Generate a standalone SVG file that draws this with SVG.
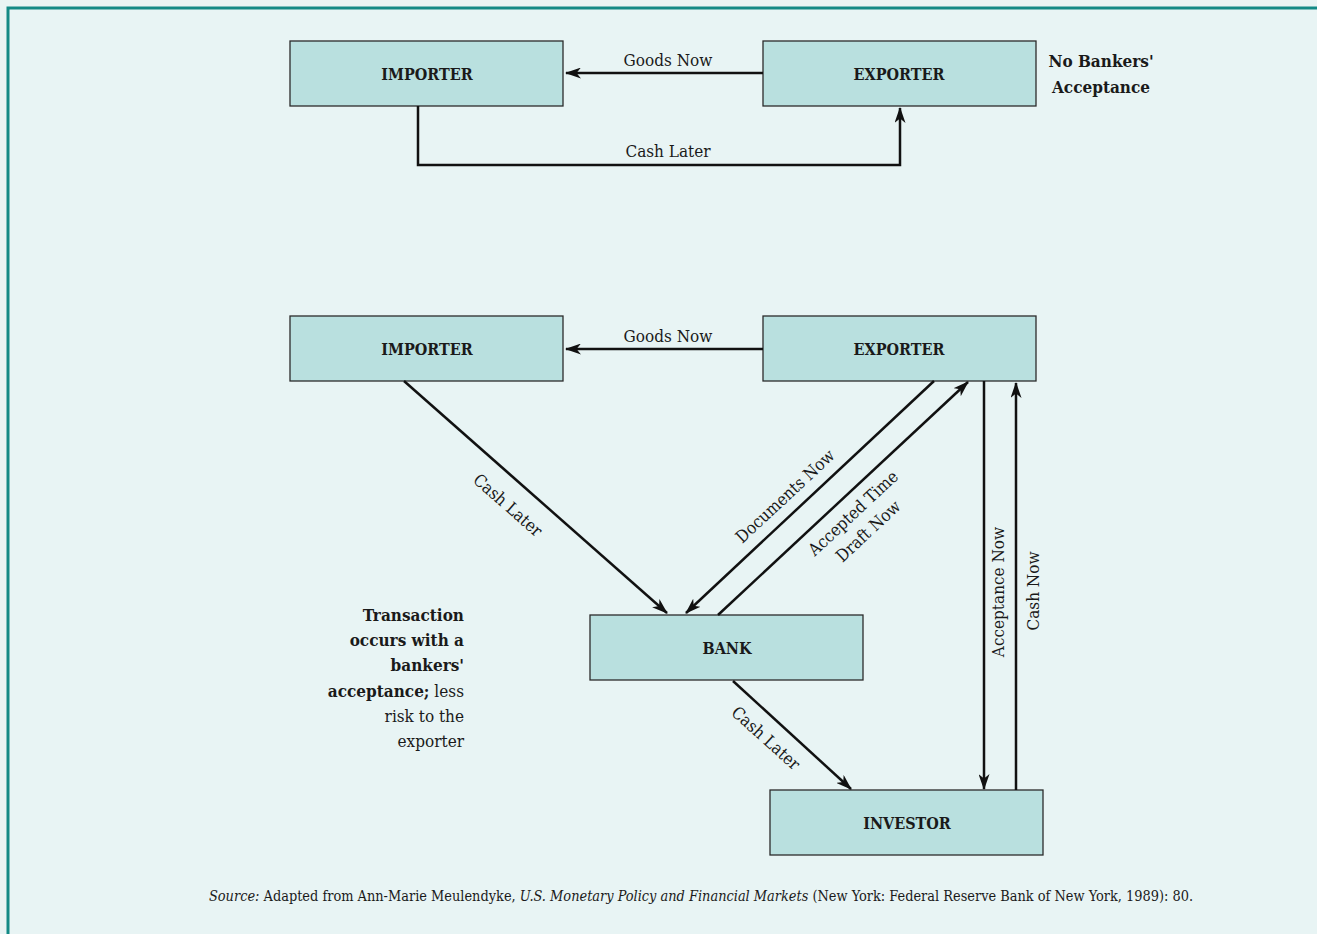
<svg xmlns="http://www.w3.org/2000/svg" width="1317" height="934" viewBox="0 0 1317 934">
<style>
.bg{fill:#e8f4f4}
.frame{fill:none;stroke:#128a86;stroke-width:3}
.box{fill:#b9e0df;stroke:#2b2b2b;stroke-width:1.3}
text{font-family:"DejaVu Serif Condensed","DejaVu Serif",serif;font-stretch:condensed;fill:#1a1a1a}
.nt{font-weight:bold;font-size:16px;text-anchor:middle}
.lb{font-size:17px;text-anchor:middle}
.note{font-size:17px}
.b{font-weight:bold}
.src{font-size:14.4px}
.c{fill:none;stroke:#111;stroke-width:2.5}
</style>
<defs>
<marker id="ah" viewBox="0 0 16 11" refX="15" refY="5.5" markerWidth="16" markerHeight="11" markerUnits="userSpaceOnUse" orient="auto">
<path d="M0,0 L16,5.5 L0,11 L4.5,5.5 z" fill="#111"/>
</marker>
</defs>
<rect class="bg" x="0" y="0" width="1317" height="934"/>
<rect class="frame" x="8" y="8" width="1330" height="950"/>

<g id="imp1"><rect class="box" x="290" y="41" width="273" height="65"/><text class="nt" x="427" y="80">IMPORTER</text></g>
<g id="exp1"><rect class="box" x="763" y="41" width="273" height="65"/><text class="nt" x="899" y="80">EXPORTER</text></g>
<g id="note1"><text class="note b" x="1101" y="67" text-anchor="middle">No Bankers'</text><text class="note b" x="1101" y="93" text-anchor="middle">Acceptance</text></g>

<g id="imp2"><rect class="box" x="290" y="316" width="273" height="65"/><text class="nt" x="427" y="355">IMPORTER</text></g>
<g id="exp2"><rect class="box" x="763" y="316" width="273" height="65"/><text class="nt" x="899" y="355">EXPORTER</text></g>
<g id="bank"><rect class="box" x="590" y="615" width="273" height="65"/><text class="nt" x="727" y="654">BANK</text></g>
<g id="inv"><rect class="box" x="770" y="790" width="273" height="65"/><text class="nt" x="907" y="829">INVESTOR</text></g>

<g id="note2" class="note" text-anchor="end">
<text x="464" y="621" class="b" text-anchor="end">Transaction</text>
<text x="464" y="646" class="b" text-anchor="end">occurs with a</text>
<text x="464" y="671" class="b" text-anchor="end">bankers'</text>
<text x="464" y="697" text-anchor="end"><tspan class="b">acceptance;</tspan> less</text>
<text x="464" y="722" text-anchor="end">risk to the</text>
<text x="464" y="747" text-anchor="end">exporter</text>
</g>

<g id="connectors">
<line class="c" x1="763" y1="73" x2="566" y2="73" marker-end="url(#ah)"/>
<polyline class="c" points="418,106 418,165 900,165 900,108" marker-end="url(#ah)"/>
<line class="c" x1="763" y1="349" x2="566" y2="349" marker-end="url(#ah)"/>
<line class="c" x1="404" y1="381" x2="667" y2="613" marker-end="url(#ah)"/>
<line class="c" x1="934" y1="381" x2="686" y2="613" marker-end="url(#ah)"/>
<line class="c" x1="718" y1="615" x2="968" y2="382" marker-end="url(#ah)"/>
<line class="c" x1="984" y1="381" x2="984" y2="789" marker-end="url(#ah)"/>
<line class="c" x1="1016" y1="790" x2="1016" y2="383" marker-end="url(#ah)"/>
<line class="c" x1="733" y1="681" x2="851" y2="789" marker-end="url(#ah)"/>
</g>

<g id="labels">
<text class="lb" x="668" y="66">Goods Now</text>
<text class="lb" x="668" y="157">Cash Later</text>
<text class="lb" x="668" y="342">Goods Now</text>
<text class="lb" transform="translate(508,505) rotate(41.3)" y="6">Cash Later</text>
<text class="lb" transform="translate(785,496) rotate(-43)" y="6">Documents Now</text>
<text class="lb" transform="translate(853,513) rotate(-43)" y="6">Accepted Time</text>
<text class="lb" transform="translate(868,531) rotate(-43)" y="6">Draft Now</text>
<text class="lb" transform="translate(998,592) rotate(-90)" y="6">Acceptance Now</text>
<text class="lb" transform="translate(1033,591) rotate(-90)" y="6">Cash Now</text>
<text class="lb" transform="translate(766,738) rotate(42)" y="6">Cash Later</text>
</g>

<text class="src" x="701" y="901" text-anchor="middle"><tspan font-style="italic">Source:</tspan> Adapted from Ann-Marie Meulendyke, <tspan font-style="italic">U.S. Monetary Policy and Financial Markets</tspan> (New York: Federal Reserve Bank of New York, 1989): 80.</text>
</svg>
